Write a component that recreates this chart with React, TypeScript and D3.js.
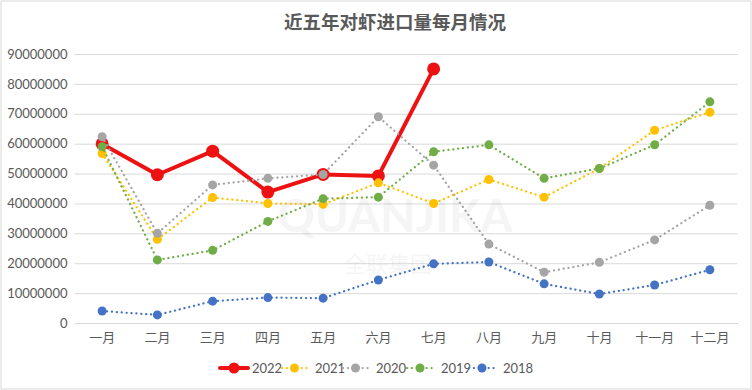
import React, { useEffect, useRef } from 'react'
import * as d3 from 'd3'

const months = ['一月', '二月', '三月', '四月', '五月', '六月', '七月', '八月', '九月', '十月', '十一月', '十二月']
const yTicks = [0, 10000000, 20000000, 30000000, 40000000, 50000000, 60000000, 70000000, 80000000, 90000000]

const v2022 = [59900000, 49600000, 57500000, 43800000, 49700000, 49200000, 85000000]
const v2021 = [56700000, 28000000, 42000000, 40000000, 39700000, 46900000, 40000000, 48000000, 42100000, 51700000, 64500000, 70500000]
const v2020 = [62300000, 30000000, 46200000, 48400000, 49700000, 69000000, 52800000, 26400000, 17000000, 20300000, 27800000, 39400000]
const v2019 = [59000000, 21100000, 24300000, 34000000, 41600000, 42100000, 57300000, 59600000, 48400000, 51700000, 59600000, 74000000]
const v2018 = [4000000, 2700000, 7300000, 8500000, 8300000, 14400000, 19800000, 20400000, 13100000, 9700000, 12700000, 17800000]

const seriesList = [
  { name: '2022', values: v2022, color: '#ee1111', width: 4, r: 6.5, dotted: false },
  { name: '2021', values: v2021, color: '#ffc000', width: 2.25, r: 4.5, dotted: true },
  { name: '2020', values: v2020, color: '#a5a5a5', width: 2.25, r: 4.5, dotted: true },
  { name: '2019', values: v2019, color: '#70ad47', width: 2.25, r: 4.5, dotted: true },
  { name: '2018', values: v2018, color: '#4472c4', width: 2.25, r: 4.5, dotted: true },
]

const W = 752
const H = 390
const font = 'Lato, "Noto Sans CJK SC", sans-serif'

export default function App() {
  const ref = useRef<SVGSVGElement>(null)

  useEffect(() => {
    const svg = d3.select(ref.current)
    svg.selectAll('*').remove()

    const left = 74.5
    const right = 737.5
    const top = 54
    const bottom = 323

    const x = d3.scaleBand<string>().domain(months).range([left, right])
    const y = d3.scaleLinear().domain([0, 90000000]).range([bottom, top])
    const cx = (i: number) => (x(months[i]) as number) + x.bandwidth() / 2

    // frame
    svg.append('rect')
      .attr('x', 1).attr('y', 1).attr('width', W - 2).attr('height', H - 2)
      .attr('fill', '#fff').attr('stroke', '#d9d9d9')

    svg.append('text')
      .attr('x', 395).attr('y', 29)
      .attr('text-anchor', 'middle')
      .attr('font-family', font)
      .attr('font-size', 18.5)
      .attr('font-weight', 'bold')
      .attr('fill', '#595959')
      .text('近五年对虾进口量每月情况')

    // gridlines
    const yAxis = d3.axisLeft(y).tickValues(yTicks).tickSize(-(right - left)).tickFormat(d => String(d))
    const g = svg.append('g').attr('transform', `translate(${left},0)`).call(yAxis)
    g.select('.domain').remove()
    g.selectAll('.tick line').attr('stroke', '#d9d9d9').attr('stroke-width', 1)
    g.selectAll('.tick text')
      .attr('x', -7)
      .attr('font-family', font)
      .attr('font-size', 13)
      .attr('fill', '#595959')

    // x axis
    const xAxis = d3.axisBottom(x).tickSize(0).tickPadding(10)
    const gx = svg.append('g').attr('transform', `translate(0,${bottom})`).call(xAxis)
    gx.select('.domain').attr('stroke', '#d9d9d9')
    gx.selectAll('.tick text')
      .attr('font-family', font)
      .attr('font-size', 13)
      .attr('fill', '#595959')

    // watermark
    svg.append('text')
      .attr('x', 395).attr('y', 232)
      .attr('text-anchor', 'middle')
      .attr('font-family', font)
      .attr('font-size', 46)
      .attr('font-weight', 'bold')
      .attr('fill', '#000').attr('opacity', 0.035)
      .text('QUANJIKA')
    svg.append('text')
      .attr('x', 388).attr('y', 272)
      .attr('text-anchor', 'middle')
      .attr('font-family', font)
      .attr('font-size', 22)
      .attr('fill', '#000').attr('opacity', 0.035)
      .text('全联集团')

    const line = d3.line<number>().x((d, i) => cx(i)).y(d => y(d))

    seriesList.forEach(s => {
      svg.append('path')
        .datum(s.values)
        .attr('d', line)
        .attr('fill', 'none')
        .attr('stroke', s.color)
        .attr('stroke-width', s.width)
        .attr('stroke-linecap', s.dotted ? 'round' : 'round')
        .attr('stroke-linejoin', 'round')
        .attr('stroke-dasharray', s.dotted ? '0.1 4.8' : null)
      svg.append('g').selectAll('circle')
        .data(s.values)
        .join('circle')
        .attr('cx', (d, i) => cx(i))
        .attr('cy', d => y(d))
        .attr('r', s.r)
        .attr('fill', s.color)
    })

    // legend
    const legendX = [220, 282, 343, 407, 469]
    const legendW = [28, 25, 25, 26, 26]
    const ly = 368
    seriesList.forEach((s, i) => {
      const lg = svg.append('g')
      const x0 = legendX[i]
      const x1 = x0 + legendW[i]
      lg.append('line')
        .attr('x1', x0).attr('x2', x1).attr('y1', ly).attr('y2', ly)
        .attr('stroke', s.color)
        .attr('stroke-width', s.width)
        .attr('stroke-linecap', 'round')
        .attr('stroke-dasharray', s.dotted ? '0.1 4.8' : null)
      lg.append('circle')
        .attr('cx', (x0 + x1) / 2).attr('cy', ly).attr('r', s.dotted ? 4.5 : 5.5)
        .attr('fill', s.color)
      lg.append('text')
        .attr('x', x1 + (s.dotted ? 8 : 4)).attr('y', ly + 4.5)
        .attr('font-family', font)
        .attr('font-size', 13)
        .attr('fill', '#595959')
        .text(s.name)
    })
  }, [])

  return (
    <svg ref={ref} width={W} height={H} style={{ position: 'absolute', left: 0, top: 0, display: 'block' }} />
  )
}
